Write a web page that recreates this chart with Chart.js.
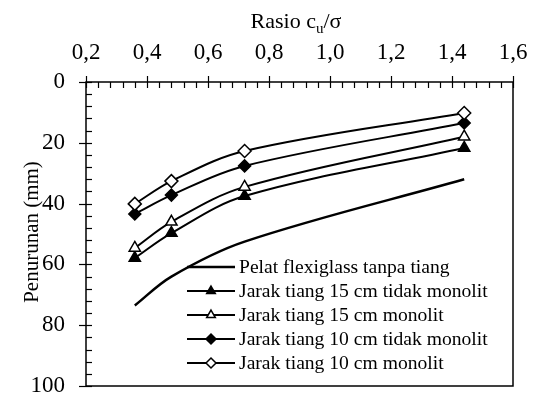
<!DOCTYPE html>
<html>
<head>
<meta charset="utf-8">
<script src="https://cdn.jsdelivr.net/npm/chart.js@4/dist/chart.umd.min.js"></script>
<style>
html,body{margin:0;padding:0;background:#fff;}
#wrap{width:536px;height:399px;position:relative;}
</style>
</head>
<body>
<div id="wrap"><canvas id="c" width="536" height="399"></canvas></div>
<script>
// Data
const xValues = [0.36, 0.48, 0.72, 1.44];
const pelatTanpaTiang = [73.5, 64.0, 52.5, 32.0];
const jarak15TidakMonolit = [57.9, 49.7, 37.5, 21.7];
const jarak15Monolit = [54.6, 46.0, 34.5, 18.0];
const jarak10TidakMonolit = [43.4, 37.2, 27.6, 13.5];
const jarak10Monolit = [40.1, 32.6, 22.7, 10.2];
const xTickLabels = ['0,2','0,4','0,6','0,8','1,0','1,2','1,4','1,6'];
const yTickLabels = ['0','20','40','60','80','100'];
const seriesNames = [
  'Pelat flexiglass tanpa tiang',
  'Jarak tiang 15 cm tidak monolit',
  'Jarak tiang 15 cm monolit',
  'Jarak tiang 10 cm tidak monolit',
  'Jarak tiang 10 cm monolit'
];
const xTitleMain = 'Rasio c';
const xTitleSub = 'u';
const xTitleEnd = '/σ';
const yTitle = 'Penurunan (mm)';

const FONT = '"Liberation Serif", "Times New Roman", serif';
const toPts = arr => arr.map((v, i) => ({x: xValues[i], y: v}));

const styles = [
  {pointStyle: false, radius: 0, bg: '#000', lw: 2.5},
  {pointStyle: 'triangle', radius: 6.5, bg: '#000', lw: 2},
  {pointStyle: 'triangle', radius: 6.5, bg: '#fff', lw: 2},
  {pointStyle: 'rectRot', radius: 6, bg: '#000', lw: 2},
  {pointStyle: 'rectRot', radius: 6.5, bg: '#fff', lw: 2}
];
const allSeries = [pelatTanpaTiang, jarak15TidakMonolit, jarak15Monolit, jarak10TidakMonolit, jarak10Monolit];

const datasets = allSeries.map((s, i) => ({
  label: seriesNames[i],
  data: toPts(s),
  borderColor: '#000',
  borderWidth: styles[i].lw,
  backgroundColor: styles[i].bg,
  pointStyle: styles[i].pointStyle,
  pointRadius: styles[i].radius,
  pointBorderColor: '#000',
  pointBorderWidth: 1.5,
  pointBackgroundColor: styles[i].bg,
  tension: 0.35,
  fill: false,
  order: 5 - i
}));

const decorPlugin = {
  id: 'decor',
  afterDraw(chart) {
    const ctx = chart.ctx;
    const a = chart.chartArea;
    const xs = chart.scales.x, ys = chart.scales.y;
    ctx.save();
    ctx.strokeStyle = '#000';
    ctx.fillStyle = '#000';
    // frame
    ctx.lineWidth = 1.5;
    ctx.strokeRect(a.left, a.top, a.right - a.left, a.bottom - a.top);
    ctx.lineWidth = 1.2;
    // x ticks (top)
    for (let v = 0.2; v <= 1.6001; v += 0.04) {
      const px = Math.round(xs.getPixelForValue(v)) + 0.5;
      const major = Math.abs(Math.round(v / 0.2) * 0.2 - v) < 1e-6;
      ctx.beginPath();
      if (major) { ctx.moveTo(px, a.top - 6); ctx.lineTo(px, a.top + 6); }
      else { ctx.moveTo(px, a.top); ctx.lineTo(px, a.top + 6); }
      ctx.stroke();
    }
    // y ticks (left)
    for (let v = 0; v <= 100.001; v += 4) {
      const py = Math.round(ys.getPixelForValue(v)) + 0.5;
      const major = v % 20 === 0;
      ctx.beginPath();
      if (major) { ctx.moveTo(a.left - 7, py); ctx.lineTo(a.left + 6, py); }
      else { ctx.moveTo(a.left, py); ctx.lineTo(a.left + 6, py); }
      ctx.stroke();
    }
    // x title with subscript
    ctx.font = '22px ' + FONT;
    ctx.textBaseline = 'alphabetic';
    const wMain = ctx.measureText(xTitleMain).width;
    ctx.font = '15px ' + FONT;
    const wSub = ctx.measureText(xTitleSub).width;
    ctx.font = '22px ' + FONT;
    const wEnd = ctx.measureText(xTitleEnd).width;
    const total = wMain + wSub + wEnd;
    let tx = 296 - total / 2;
    const ty = 28;
    ctx.textAlign = 'left';
    ctx.fillText(xTitleMain, tx, ty);
    ctx.font = '15px ' + FONT;
    ctx.fillText(xTitleSub, tx + wMain, ty + 5);
    ctx.font = '22px ' + FONT;
    ctx.fillText(xTitleEnd, tx + wMain + wSub, ty);
    // y title
    ctx.save();
    ctx.translate(38, 232);
    ctx.rotate(-Math.PI / 2);
    ctx.textAlign = 'center';
    ctx.textBaseline = 'alphabetic';
    ctx.font = '21px ' + FONT;
    ctx.fillText(yTitle, 0, 0);
    ctx.restore();
    // legend
    const rowY = [267, 291, 315, 339, 363];
    ctx.font = '19.6px ' + FONT;
    ctx.textAlign = 'left';
    ctx.textBaseline = 'middle';
    for (let i = 0; i < 5; i++) {
      const y = rowY[i];
      ctx.lineWidth = styles[i].lw;
      ctx.strokeStyle = '#000';
      ctx.beginPath();
      ctx.moveTo(187, y); ctx.lineTo(235, y);
      ctx.stroke();
      if (styles[i].pointStyle) {
        ctx.fillStyle = styles[i].bg;
        ctx.lineWidth = 1.5;
        Chart.helpers.drawPoint(ctx, {pointStyle: styles[i].pointStyle, radius: 5, borderWidth: 1.5}, 211, y);
      }
      ctx.fillStyle = '#000';
      ctx.fillText(seriesNames[i], 239, y + 1);
    }
    ctx.restore();
  }
};

new Chart(document.getElementById('c'), {
  type: 'line',
  data: {datasets},
  options: {
    responsive: false,
    animation: false,
    layout: {padding: {left: 0, top: 0, right: 23, bottom: 13}},
    plugins: {legend: {display: false}, tooltip: {enabled: false}},
    scales: {
      x: {
        type: 'linear', position: 'top', min: 0.2, max: 1.6,
        afterBuildTicks: s => { s.ticks = xTickLabels.map((t, i) => ({value: 0.2 + i * 0.2})); },
        afterFit: s => { s.height = 82; s.paddingLeft = 0; s.paddingRight = 0; s.paddingTop = 0; s.paddingBottom = 0; },
        grid: {display: false},
        border: {display: false},
        ticks: {
          color: '#000', font: {family: FONT, size: 23}, padding: 7, maxRotation: 0,
          callback: (v, i) => xTickLabels[i]
        }
      },
      y: {
        type: 'linear', reverse: true, min: 0, max: 100,
        afterBuildTicks: s => { s.ticks = yTickLabels.map(t => ({value: Number(t)})); },
        afterFit: s => { s.width = 86; s.paddingLeft = 0; s.paddingRight = 0; s.paddingTop = 0; s.paddingBottom = 0; },
        grid: {display: false},
        border: {display: false},
        ticks: {
          color: '#000', font: {family: FONT, size: 23}, padding: 13,
          callback: (v, i) => yTickLabels[i]
        }
      }
    }
  },
  plugins: [decorPlugin]
});
</script>
</body>
</html>
